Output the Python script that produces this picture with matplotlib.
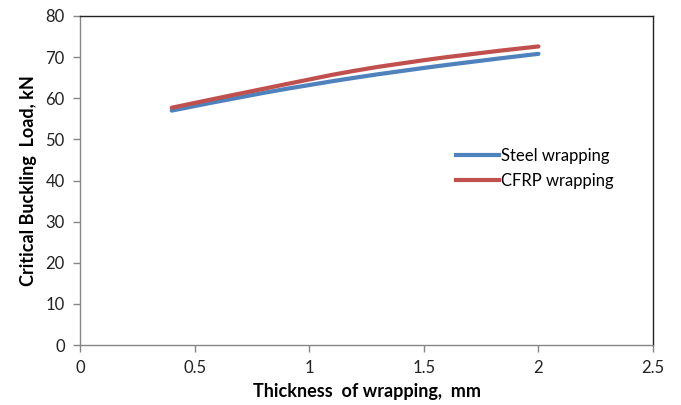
import matplotlib
matplotlib.use('Agg')
import matplotlib.pyplot as plt
from matplotlib.path import Path
from matplotlib.patches import PathPatch
from matplotlib.lines import Line2D

#------------------------------------------------------------------------
# D A T A
#------------------------------------------------------------------------

thickness  = [0.4, 0.8, 1.2, 1.6, 2.0]            # mm
load_steel = [57.0, 61.3, 65.0, 68.1, 70.8]       # kN
load_cfrp  = [57.7, 62.3, 66.7, 70.0, 72.6]       # kN

x_ticks = [0, 0.5, 1, 1.5, 2, 2.5]
x_tick_labels = ['0', '0.5', '1', '1.5', '2', '2.5']
y_ticks = [0, 10, 20, 30, 40, 50, 60, 70, 80]

STEEL_C = '#4F81BD'
CFRP_C  = '#C0504D'

plt.rcParams['font.family'] = ['Lato', 'DejaVu Sans']

#------------------------------------------------------------------------
# Excel-like smoothed line: bezier segments through the data points
#------------------------------------------------------------------------

def smooth_path(xs, ys):
    pts = list(zip(xs, ys))
    verts = [pts[0]]
    codes = [Path.MOVETO]
    for i in range(len(pts) - 1):
        p0 = pts[i - 1] if i > 0 else pts[i]
        p1 = pts[i]
        p2 = pts[i + 1]
        p3 = pts[i + 2] if i + 2 < len(pts) else pts[i + 1]
        c1 = (p1[0] + (p2[0] - p0[0]) / 6., p1[1] + (p2[1] - p0[1]) / 6.)
        c2 = (p2[0] - (p3[0] - p1[0]) / 6., p2[1] - (p3[1] - p1[1]) / 6.)
        verts += [c1, c2, p2]
        codes += [Path.CURVE4] * 3
    return Path(verts, codes)

fig = plt.figure(figsize=(6.81, 4.05), dpi=100)
ax = fig.add_axes([0.1175, 0.148, 0.8415, 0.8125])

for xs, ys, col in [(thickness, load_steel, STEEL_C), (thickness, load_cfrp, CFRP_C)]:
    ax.add_patch(PathPatch(smooth_path(xs, ys), facecolor='none', edgecolor=col,
                           lw=3.0, capstyle='round'))

ax.set_xlim(0, 2.5)
ax.set_ylim(0, 80)
ax.set_xticks(x_ticks)
ax.set_xticklabels(x_tick_labels)
ax.set_yticks(y_ticks)

for s in ['left', 'bottom']:
    ax.spines[s].set_color('#868686')
    ax.spines[s].set_linewidth(1.0)
for s in ['top', 'right']:
    ax.spines[s].set_color('#222222')
    ax.spines[s].set_linewidth(1.0)

ax.tick_params(axis='both', direction='out', length=5, width=1, color='#868686',
               labelsize=12, labelcolor='#222222', pad=6)

ax.set_xlabel('Thickness  of wrapping,  mm', fontsize=13, fontweight='bold', labelpad=5)
ax.set_ylabel('Critical Buckling  Load, kN', fontsize=13, fontweight='bold', labelpad=6)

handles = [Line2D([], [], color=STEEL_C, lw=3.0), Line2D([], [], color=CFRP_C, lw=3.0)]
ax.legend(handles, ['Steel wrapping', 'CFRP wrapping'], loc='upper left',
          bbox_to_anchor=(0.63, 0.645), frameon=False, fontsize=12,
          handlelength=2.6, handletextpad=0.1, labelspacing=0.55)

plt.savefig('out.png', dpi=100)
